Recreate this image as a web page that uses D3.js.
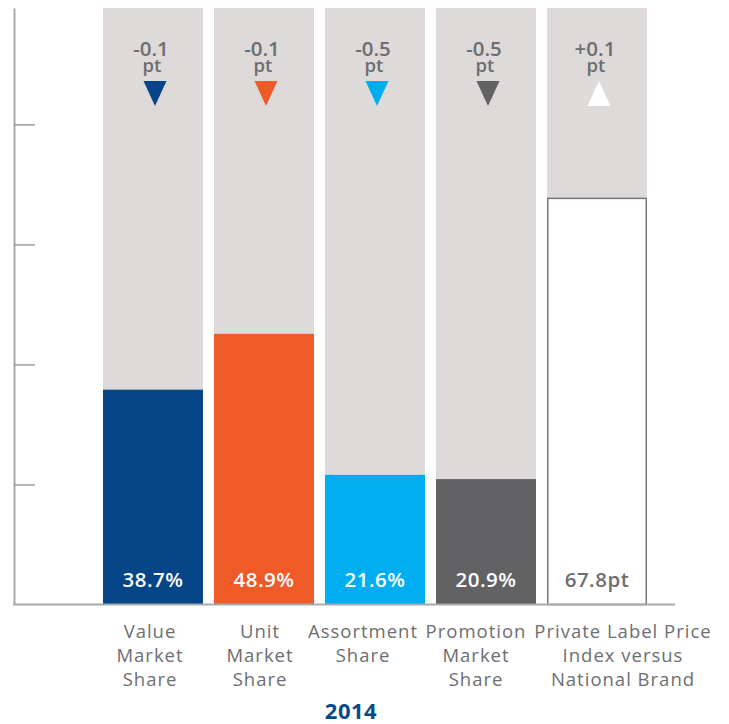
<!DOCTYPE html>
<html>
<head>
<meta charset="utf-8">
<script src="https://cdn.jsdelivr.net/npm/d3@7"></script>
<style>
  html, body { margin: 0; padding: 0; background: #ffffff; }
  svg { display: block; }
</style>
</head>
<body>
<svg id="chart" width="729" height="724"></svg>
<script>
// ---------- data ----------
const categories = [
  ["Value", "Market", "Share"],
  ["Unit", "Market", "Share"],
  ["Assortment", "Share"],
  ["Promotion", "Market", "Share"],
  ["Private Label Price", "Index versus", "National Brand"]
];
const barValues   = [35.8, 45.1, 21.6, 20.9, 67.8];   // bar heights as drawn
const valueLabels = ["38.7%", "48.9%", "21.6%", "20.9%", "67.8pt"];
const changeLabels = ["-0.1", "-0.1", "-0.5", "-0.5", "+0.1"];
const changeDirection = ["down", "down", "down", "down", "up"];
const yearLabel = "2014";
const trackMax = 99.4;
const tickValues = [20, 40, 60, 80];

// ---------- style / layout ----------
const barColors = ["#064587", "#ee5a28", "#00aeef", "#626264", "#ffffff"];
const labelColors = ["#ffffff", "#ffffff", "#ffffff", "#ffffff", "#6d6e71"];
const triColors = ["#064587", "#ee5a28", "#00aeef", "#626264", "#ffffff"];
const catLabelShift = [-3, -4, -12, -10, 26];
const textGray = "#6d6e71";
const trackGray = "#dddad9";
const axisGray = "#a7a9ac";

const svg = d3.select("#chart");
const ids = categories.map((c, i) => i);

const x = d3.scaleBand().domain(ids).range([103, 647]).paddingInner(11 / 111).paddingOuter(0);
const y = d3.scaleLinear().domain([0, trackMax]).range([604.5, 8]);

// background tracks
svg.append("g").selectAll("rect").data(ids).join("rect")
  .attr("x", i => x(i)).attr("width", x.bandwidth())
  .attr("y", y(trackMax)).attr("height", y(0) - y(trackMax))
  .attr("fill", trackGray);

// value bars
svg.append("g").selectAll("rect").data(ids).join("rect")
  .attr("x", i => x(i) + (i === 4 ? 0.75 : 0))
  .attr("width", i => x.bandwidth() - (i === 4 ? 1.5 : 0))
  .attr("y", i => y(barValues[i]) + (i === 4 ? 0.75 : 0))
  .attr("height", i => y(0) - y(barValues[i]) - (i === 4 ? 0.75 : 0))
  .attr("fill", i => barColors[i])
  .attr("stroke", i => i === 4 ? "#77767a" : "none")
  .attr("stroke-width", 1.5);

// axis
const axis = d3.axisRight(y).tickValues(tickValues).tickSize(21).tickSizeOuter(0).tickFormat("");
const ag = svg.append("g").attr("transform", "translate(14,0)").call(axis);
ag.select(".domain").attr("stroke", axisGray).attr("stroke-width", 2);
ag.selectAll(".tick line").attr("stroke", "#9a9b9e").attr("stroke-width", 1.5);

// baseline
svg.append("line")
  .attr("x1", 13).attr("x2", 675).attr("y1", y(0)).attr("y2", y(0))
  .attr("stroke", axisGray).attr("stroke-width", 2);

// value labels
svg.append("g").selectAll("text").data(ids).join("text")
  .attr("x", i => x(i) + x.bandwidth() / 2)
  .attr("y", 586.5)
  .attr("text-anchor", "middle")
  .attr("font-family", "'Open Sans', sans-serif")
  .attr("font-weight", 600)
  .attr("font-size", 20.5)
  .attr("letter-spacing", 0.5)
  .attr("fill", i => labelColors[i])
  .text(i => valueLabels[i]);

// change labels
const cg = svg.append("g").attr("font-family", "'Open Sans', sans-serif")
  .attr("font-weight", 600).attr("fill", textGray)
  .attr("text-anchor", "middle");
cg.selectAll("text.chg").data(ids).join("text").attr("class", "chg")
  .attr("x", i => x(i) + x.bandwidth() / 2 - 2)
  .attr("y", 55.5)
  .attr("font-size", 20.5)
  .text(i => changeLabels[i]);
cg.selectAll("text.pt").data(ids).join("text").attr("class", "pt")
  .attr("x", i => x(i) + x.bandwidth() / 2 - 1)
  .attr("y", 72)
  .attr("font-size", 18.5)
  .text("pt");

// triangles
svg.append("g").selectAll("path").data(ids).join("path")
  .attr("transform", i => `translate(${x(i) + x.bandwidth() / 2 + 2},0)`)
  .attr("d", i => changeDirection[i] === "down"
    ? "M-11.5,81 L11.5,81 L0,106 Z"
    : "M0,81 L11.5,106 L-11.5,106 Z")
  .attr("fill", i => triColors[i]);

// category labels
const lg = svg.append("g").attr("font-family", "'Open Sans', sans-serif")
  .attr("font-size", 18.5).attr("fill", textGray).attr("text-anchor", "middle")
  .attr("letter-spacing", 1);
ids.forEach(i => {
  const t = lg.append("text")
    .attr("x", x(i) + x.bandwidth() / 2 + catLabelShift[i])
    .attr("y", 638);
  categories[i].forEach((line, k) => {
    t.append("tspan")
      .attr("x", x(i) + x.bandwidth() / 2 + catLabelShift[i])
      .attr("y", 638 + k * 24)
      .text(line);
  });
});

// year
svg.append("text")
  .attr("x", 351).attr("y", 718.5)
  .attr("text-anchor", "middle")
  .attr("font-family", "'Open Sans', sans-serif")
  .attr("font-weight", 700).attr("font-size", 22)
  .attr("letter-spacing", 0.5)
  .attr("fill", "#0a4a8a")
  .text(yearLabel);
</script>
</body>
</html>
